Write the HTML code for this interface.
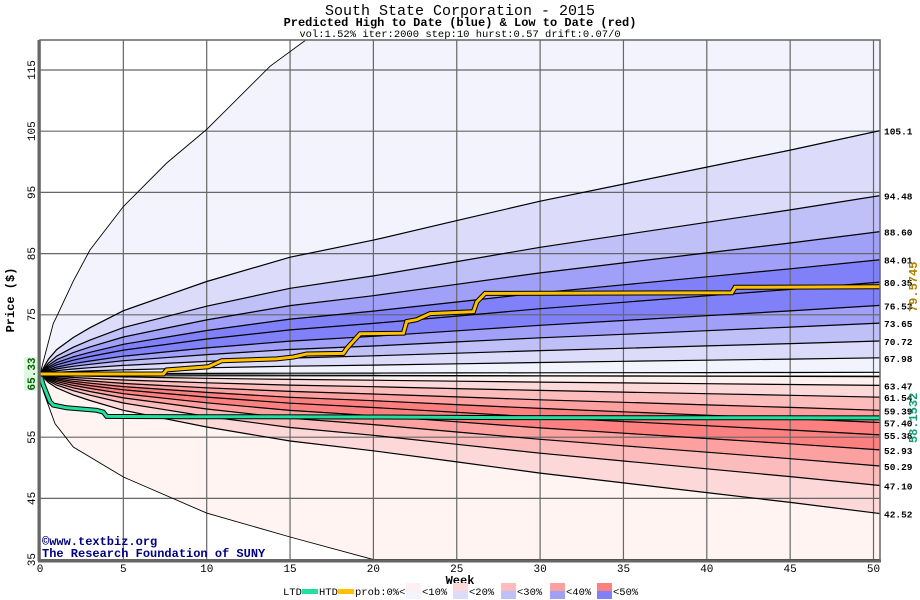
<!DOCTYPE html>
<html><head><meta charset="utf-8"><style>
body{margin:0;background:#fff;overflow:hidden;}
svg{display:block;font-family:"Liberation Mono",monospace;}
</style></head><body>
<svg id="chart" width="920" height="600" viewBox="0 0 920 600" xmlns="http://www.w3.org/2000/svg">
<defs><clipPath id="pc"><rect x="40" y="40" width="840" height="520"/></clipPath></defs>
<text x="460" y="15" text-anchor="middle" font-size="15">South State Corporation - 2015</text>
<text x="460" y="26" text-anchor="middle" font-size="12" font-weight="bold">Predicted High to Date (blue) &amp;  Low to Date (red)</text>
<text x="460" y="37" text-anchor="middle" font-size="10.5">vol:1.52% iter:2000 step:10 hurst:0.57 drift:0.07/0</text>
<g id="bands" clip-path="url(#pc)"></g>
<g id="grid"></g>
<g id="lines" clip-path="url(#pc)"></g>
<g id="axes"></g>
<text x="460" y="584" text-anchor="middle" font-size="12" font-weight="bold">Week</text>
<text transform="translate(14,300) rotate(-90)" text-anchor="middle" font-size="12" font-weight="bold">Price ($)</text>
<text x="42" y="545" font-size="12" font-weight="bold" fill="#000080">©www.textbiz.org</text>
<text x="42" y="557" font-size="12" font-weight="bold" fill="#000080">The Research Foundation of SUNY</text>
<g id="legend" font-size="10.5"></g>
</svg>
<script>
// ---- data ----
const shapeWeeks = [0,0.5,1,2,3,5,7.5,10,15,20,25,30,35,40,45,50.4];
const shapeFrac  = [0,0.06,0.1,0.15,0.19,0.26,0.32,0.38,0.48,0.55,0.63,0.71,0.78,0.85,0.92,1.0];
const blueEnds = [105.1,94.48,88.60,84.01,80.35,76.53,73.65,70.72,67.98,65.6];
const redEnds  = [64.9,63.47,61.54,59.39,57.40,55.38,52.93,50.29,47.10,42.52];
const rightLabels = ["105.1","94.48","88.60","84.01","80.35","76.53","73.65","70.72","67.98","63.47","61.54","59.39","57.40","55.38","52.93","50.29","47.10","42.52"];
const rightLabelVals = [105.1,94.48,88.60,84.01,80.35,76.53,73.65,70.72,67.98,63.47,61.54,59.39,57.40,55.38,52.93,50.29,47.10,42.52];
const upEnvWeeks = [0,0.8,1,2,3,5,7.6,10,13.8,16,50.4];
const upEnvVals  = [65.33,73.6,74.7,80.5,85.6,92.7,99.8,105.3,115.6,120,120];
const loEnvWeeks = [0,0.2,0.9,2,5,10,15,20,50.4];
const loEnvVals  = [65.33,62.5,57.2,53.4,48.5,42.6,38.7,35,35];
const htdWeeks = [0,7.4,7.6,10.1,10.9,14.2,15.2,16,18.2,18.4,19.2,21.8,22.0,22.6,23.4,26,26.2,26.7,41.5,41.7,50.4];
const htdVals  = [65.33,65.33,66.0,66.5,67.5,67.8,68.1,68.6,68.7,69.5,71.9,72.0,73.9,74.2,75.2,75.5,77.1,78.5,78.6,79.5,79.57];
const ltdWeeks = [0,0.2,0.6,0.8,1.6,3.4,3.8,4.0,9,20,28,50.4];
const ltdVals  = [65.33,63.5,60.8,60.25,59.8,59.4,59.1,58.4,58.35,58.3,58.2,58.15];
const start = 65.33;
const xTicks = [0,5,10,15,20,25,30,35,40,45,50];
const yTicks = [35,45,55,65,75,85,95,105,115];
const blueFills = ["#f3f3fe","#dcdcfa","#c0c0f8","#a0a0f8","#8080f8","#8080f8","#a0a0f8","#c0c0f8","#dcdcfa","#f3f3fe"];
const redFills  = ["#fff0f0","#fcd8d8","#fcbcbc","#fca0a0","#fc8080","#fc8080","#fca0a0","#fcbcbc","#fcd8d8","#fff4f2"];
// ---- scales ----
const X = w => 40 + w*16.67;
const Y = v => 559.6 - (v-35)*6.12;
const NS="http://www.w3.org/2000/svg";
function mk(t,a,p){const e=document.createElementNS(NS,t);for(const k in a)e.setAttribute(k,a[k]);p.appendChild(e);return e;}
function quant(end){return shapeWeeks.map((w,i)=>[w,start+(end-start)*shapeFrac[i]]);}
function pts(arr){return arr.map(p=>X(p[0]).toFixed(1)+","+Y(p[1]).toFixed(1));}
const upEnv = upEnvWeeks.map((w,i)=>[w,upEnvVals[i]]);
const loEnv = loEnvWeeks.map((w,i)=>[w,loEnvVals[i]]);
const bands=document.getElementById('bands'), lines=document.getElementById('lines');
function band(a,b,fill,name){
  const p=mk('polygon',{points:pts(a).concat(pts(b).reverse()).join(' '),fill:fill},bands);
  
  
}
const blueCurves=[upEnv].concat(blueEnds.map(quant));
for(let i=0;i<blueEnds.length;i++) band(blueCurves[i],blueCurves[i+1],blueFills[i],'blue-band-'+i);
const redCurves=redEnds.map(quant).concat([loEnv]);
for(let i=0;i<redEnds.length;i++) band(redCurves[i],redCurves[i+1],redFills[i],'red-band-'+i);
// grid
const grid=document.getElementById('grid');
xTicks.forEach(t=>{const l=mk('line',{x1:X(t),x2:X(t),y1:40,y2:560,stroke:'#666','stroke-width':1.2},grid);
 
 });
yTicks.forEach(t=>{const l=mk('line',{x1:40,x2:880,y1:Y(t),y2:Y(t),stroke:'#666','stroke-width':1.2},grid);
 
 });
// quantile lines
const nAll=blueCurves.length+redCurves.length;
blueCurves.concat(redCurves).forEach((c,i)=>{const l=mk('polyline',{points:pts(c).join(' '),fill:'none',stroke:'#000','stroke-width':(i==0||i==nAll-1)?0.9:1.2},lines);
 
 });
function stepLine(ws,vs,col,name){
  const p=ws.map((w,i)=>[w,vs[i]]);
  const a=mk('polyline',{points:pts(p).join(' '),fill:'none',stroke:'#000','stroke-width':5},lines);
  
  
  const b=mk('polyline',{points:pts(p).join(' '),fill:'none',stroke:col,'stroke-width':3},lines);
  
  
}
stepLine(ltdWeeks,ltdVals,'#20e0a0','ltd-line');
stepLine(htdWeeks,htdVals,'#ffc000','htd-line');
// axes
const ax=document.getElementById('axes');
let fr=mk('rect',{x:40,y:40,width:840,height:520,fill:'none',stroke:'#666','stroke-width':1.5},ax);

let bl=mk('line',{x1:38,x2:881,y1:561,y2:561,stroke:'#666','stroke-width':3},ax);

let ll=mk('line',{x1:39,x2:39,y1:40,y2:561,stroke:'#666','stroke-width':3},ax);

xTicks.forEach(t=>{const e=mk('text',{x:X(t),y:572,'text-anchor':'middle','font-size':11},ax);e.textContent=t;
 
 });
yTicks.forEach(t=>{if(t==65)return;const e=mk('text',{transform:`translate(35,${Y(t)}) rotate(-90)`,'text-anchor':'middle','font-size':11},ax);e.textContent=t;
 
 });
let sb=mk('rect',{x:24,y:Y(start)-17,width:13,height:34,fill:'#e0f8e0'},ax);

let st=mk('text',{transform:`translate(35,${Y(start)}) rotate(-90)`,'text-anchor':'middle','font-size':11,'font-weight':'bold',fill:'#006000'},ax);
st.textContent='65.33';
rightLabels.forEach((s,i)=>{const e=mk('text',{x:884,y:Y(rightLabelVals[i])+4,'font-size':9.5,'font-weight':'bold'},ax);e.textContent=s;
 
 });
let hl=mk('text',{transform:`translate(917,${Y(79.57)}) rotate(-90)`,'text-anchor':'middle','font-size':12,'font-weight':'bold',fill:'#b08000'},ax);
hl.textContent='79.5745';
let lt=mk('text',{transform:`translate(917,${Y(58.15)}) rotate(-90)`,'text-anchor':'middle','font-size':12,'font-weight':'bold',fill:'#10a070'},ax);
lt.textContent='58.1532';
// legend
const lg=document.getElementById('legend');
function txt(x,s,n){const e=mk('text',{x:x,y:595},lg);e.textContent=s;}
function sw(x,y,w,h,c,n){const e=mk('rect',{x:x,y:y,width:w,height:h,fill:c},lg);}
txt(283,'LTD','legend-ltd-label');sw(302,589,16,5,'#20e0a0','legend-ltd-swatch');
txt(319,'HTD','legend-htd-label');sw(338,589,16,5,'#ffc000','legend-htd-swatch');
txt(355,'prob:0%<','legend-prob-label');
const legX=[406,453,501,550,597], legL=['<10%','<20%','<30%','<40%','<50%'];
const legR=['#fff0f0','#fcd8d8','#fcbcbc','#fca0a0','#fc8080'], legB=['#f3f3fe','#dcdcfa','#c0c0f8','#a0a0f8','#8080f8'];
legX.forEach((x,i)=>{sw(x,583,15,8,legR[i],'legend-red-swatch');sw(x,591,15,8,legB[i],'legend-blue-swatch');txt(x+16,legL[i],'legend-prob-entry');});
</script>
</body></html>
